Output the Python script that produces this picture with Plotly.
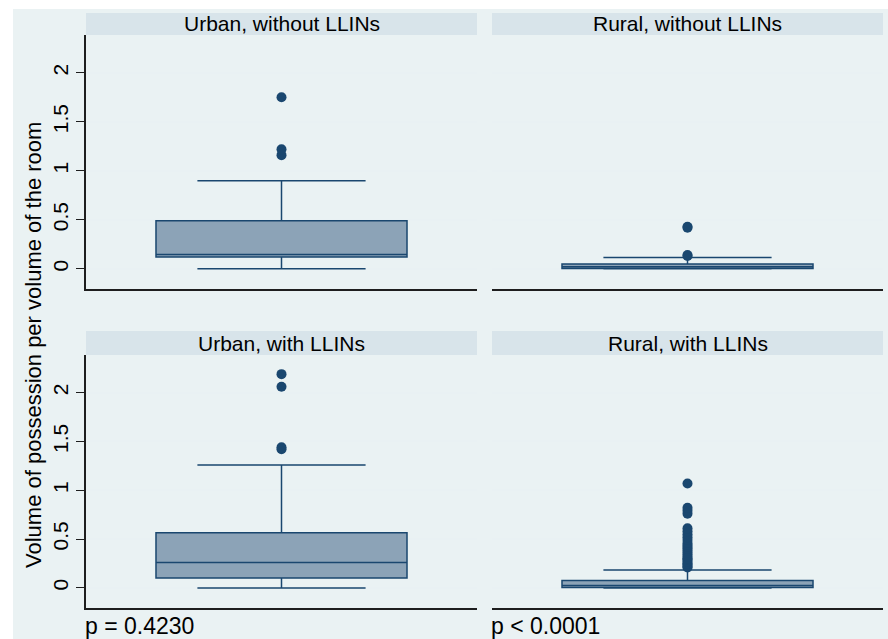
import plotly.graph_objects as go

W, H = 888, 639

# ---- data ----
panels = ["Urban, without LLINs", "Rural, without LLINs", "Urban, with LLINs", "Rural, with LLINs"]
lower_fence = [0.0, 0.0, 0.0, 0.0]
q1_vals = [0.12, 0.003, 0.102, 0.004]
median_vals = [0.145, 0.02, 0.26, 0.025]
q3_vals = [0.49, 0.05, 0.565, 0.077]
upper_fence = [0.898, 0.115, 1.258, 0.184]
outliers_urban_without = [1.16, 1.22, 1.75]
outliers_rural_without = [0.13, 0.14, 0.42, 0.43]
outliers_urban_with = [1.42, 1.44, 2.06, 2.19]
outliers_rural_with = [0.21, 0.22, 0.24, 0.25, 0.27, 0.29, 0.30, 0.32, 0.34, 0.36,
                       0.38, 0.40, 0.42, 0.44, 0.46, 0.49, 0.52, 0.55, 0.58, 0.61,
                       0.76, 0.79, 0.82, 1.07]
outliers = [outliers_urban_without, outliers_rural_without, outliers_urban_with, outliers_rural_with]
p_texts = ["p = 0.4230", "p < 0.0001"]
tick_vals = [0, 0.5, 1, 1.5, 2]
tick_text = ["0", "0.5", "1", "1.5", "2"]
y_title = "Volume of possession per volume of the room"

# ---- style ----
NAVY = "#1a476f"
BOXFILL = "#8ca3b7"
BG = "#eaf2f3"
STRIP = "#d8e4ea"
GRID = "#e9f1f3"
AXIS = "#1e1e1e"
FONT = "Liberation Sans, Arial, sans-serif"

def fx(px):
    return px / W

def fy(py):
    return 1 - py / H

col_x = [(86, 477), (492, 883)]
row_y = [(35, 289), (355, 608)]
strip_y = [(13, 35), (331, 355)]

fig = go.Figure()
layout = dict(
    width=W, height=H, margin=dict(l=0, r=0, t=0, b=0),
    paper_bgcolor="white", plot_bgcolor="white",
    showlegend=False, boxmode="overlay",
    font=dict(family=FONT, size=21, color="black"),
)

shapes = [dict(type="rect", xref="paper", yref="paper", x0=fx(13), x1=1, y0=0, y1=fy(9),
               fillcolor=BG, line=dict(width=0), layer="below")]
annotations = []

yrange = [-0.206, 2.386]
for i in range(4):
    r, c = divmod(i, 2)
    n = "" if i == 0 else str(i + 1)
    xa, ya = "x" + n, "y" + n
    x0, x1 = col_x[c]
    y0, y1 = row_y[r]
    layout["xaxis" + n] = dict(
        domain=[fx(x0), fx(x1)], anchor=ya, range=[-0.5, 0.5],
        showgrid=False, zeroline=False, showticklabels=False, ticks="",
        showline=True, linecolor=AXIS, linewidth=1.7, fixedrange=True,
    )
    yax = dict(
        domain=[fy(y1), fy(y0)], anchor=xa, range=yrange,
        showgrid=True, gridcolor=GRID, gridwidth=1.5, zeroline=False,
        tickvals=tick_vals, ticktext=tick_text, fixedrange=True,
    )
    if c == 0:
        yax.update(showline=True, linecolor=AXIS, linewidth=1.7, ticks="outside",
                   ticklen=8, tickwidth=1.2, tickcolor=AXIS, tickangle=-90,
                   tickfont=dict(family=FONT, size=21, color="black"))
    else:
        yax.update(showline=False, showticklabels=False, ticks="")
    layout["yaxis" + n] = yax

    fig.add_trace(go.Box(
        x=[0], q1=[q1_vals[i]], median=[median_vals[i]], q3=[q3_vals[i]],
        lowerfence=[lower_fence[i]], upperfence=[upper_fence[i]],
        width=0.642, whiskerwidth=0.67, boxpoints=False,
        fillcolor=BOXFILL, line=dict(color=NAVY, width=1.5),
        xaxis=xa, yaxis=ya, hoverinfo="skip",
    ))
    fig.add_trace(go.Scatter(
        x=[0] * len(outliers[i]), y=outliers[i], mode="markers",
        marker=dict(color=NAVY, size=10, line=dict(width=0)),
        xaxis=xa, yaxis=ya, hoverinfo="skip",
    ))

    sy0, sy1 = strip_y[r]
    shapes.append(dict(type="rect", xref="paper", yref="paper",
                       x0=fx(x0), x1=fx(x1), y0=fy(sy1), y1=fy(sy0),
                       fillcolor=STRIP, line=dict(width=0), layer="below"))
    annotations.append(dict(text=panels[i], xref="paper", yref="paper",
                            x=fx((x0 + x1) / 2), y=fy((sy0 + sy1) / 2),
                            xanchor="center", yanchor="middle", showarrow=False,
                            font=dict(family=FONT, size=21, color="black")))

for c in range(2):
    annotations.append(dict(text=p_texts[c], xref="paper", yref="paper",
                            x=fx(col_x[c][0] - 3), y=fy(626),
                            xanchor="left", yanchor="middle", showarrow=False,
                            font=dict(family=FONT, size=23, color="black")))

annotations.append(dict(text=y_title, xref="paper", yref="paper",
                        x=fx(33), y=fy(345), textangle=-90,
                        xanchor="center", yanchor="middle", showarrow=False,
                        font=dict(family=FONT, size=22, color="black")))

layout["shapes"] = shapes
layout["annotations"] = annotations
fig.update_layout(**layout)
fig.write_html("out.html")
